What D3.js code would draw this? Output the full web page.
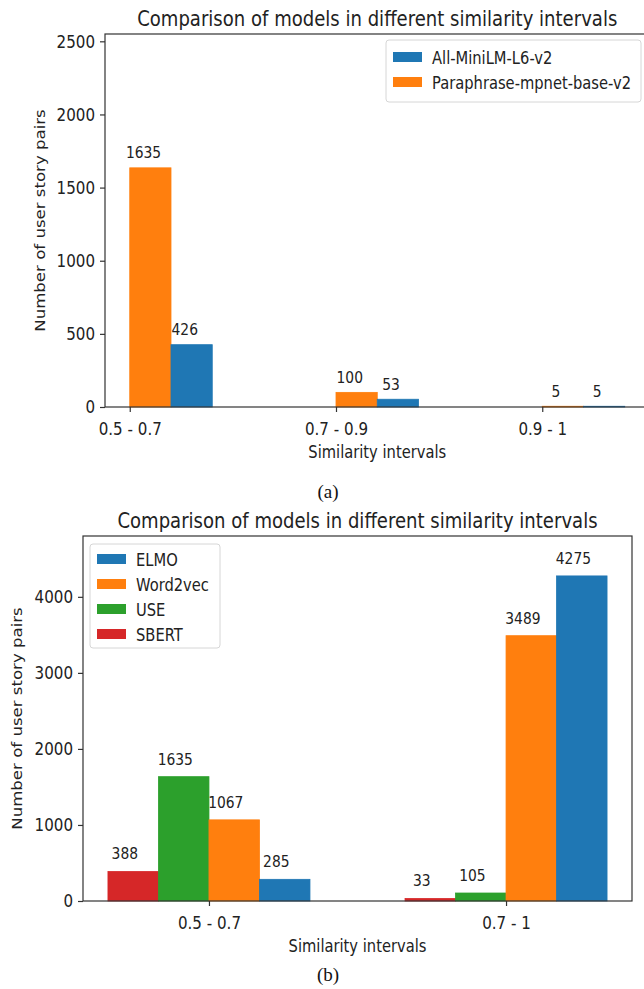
<!DOCTYPE html>
<html>
<head>
<meta charset="utf-8">
<script src="https://cdn.jsdelivr.net/npm/d3@7"></script>
<style>
  body { margin: 0; background: #fff; }
  svg text { font-family: "DejaVu Sans", sans-serif; fill: #222; }
  svg text.caption { font-family: "Liberation Serif", "Times New Roman", serif; fill: #111; }
</style>
</head>
<body>
<svg id="fig" width="644" height="989"></svg>
<script>
// (a) two sentence models
var intervalsA = ["0.5 - 0.7", "0.7 - 0.9", "0.9 - 1"];
var miniLM = [426, 53, 5];
var mpnet = [1635, 100, 5];
var yTicksA = [0, 500, 1000, 1500, 2000, 2500];

// (b) four embedding models
var intervalsB = ["0.5 - 0.7", "0.7 - 1"];
var elmo = [285, 4275];
var word2vec = [1067, 3489];
var useVals = [1635, 105];
var sbert = [388, 33];
var yTicksB = [0, 1000, 2000, 3000, 4000];

var BLUE = "#1f77b4", ORANGE = "#ff7f0e", GREEN = "#2ca02c", RED = "#d62728";
var SX = 0.84; // source picture is squeezed sideways, so is the text

var svg = d3.select("#fig");

function label(parent, x, y, str, size, anchor) {
	return parent.append("text")
		.attr("transform", "translate(" + x + "," + y + ") scale(" + SX + ",1)")
		.attr("text-anchor", anchor || "middle")
		.attr("font-size", size)
		.text(str);
}

function drawChart(o) {
	var g = svg.append("g");
	var n = o.cats.length;
	var offs = o.series.map(function(s) { return s.offset; });
	var lo = d3.min(offs) * o.barWidth,
	    hi = (n - 1) + (d3.max(offs) + 1) * o.barWidth,
	    m = 0.05 * (hi - lo);

	var x = d3.scaleLinear()
		.domain([lo - m, hi + m])
		.range([o.left, o.right]);

	var y = d3.scaleLinear()
		.domain([0, o.ymax])
		.range([o.bottom, o.top]);

	var bw = x(o.barWidth) - x(0);

	o.series.forEach(function(s) {
		g.selectAll(null)
			.data(s.values)
			.enter().append("rect")
			.attr("x", function(d, i) { return x(i + s.offset * o.barWidth); })
			.attr("y", function(d) { return y(d); })
			.attr("width", bw)
			.attr("height", function(d) { return y(0) - y(d); })
			.attr("fill", s.color)
			.attr("stroke", s.color)
			.attr("stroke-width", 0.8);

		s.values.forEach(function(d, i) {
			label(g, x(i + s.offset * o.barWidth) + bw / 3, y(d) - o.labelGap, d, 16.5);
		});
	});

	// axes
	var xAxis = g.append("g")
		.attr("transform", "translate(0," + o.bottom + ")")
		.call(d3.axisBottom(x)
			.tickValues(d3.range(n))
			.tickFormat(function(i) { return o.cats[i]; })
			.tickSize(5).tickSizeOuter(0));
	xAxis.select(".domain").remove();
	xAxis.selectAll(".tick line").attr("stroke", "#333").attr("stroke-width", 1.2);
	xAxis.selectAll(".tick text")
		.attr("y", 28).attr("dy", null)
		.attr("font-size", 18)
		.attr("transform", "scale(" + SX + ",1)");

	var yAxis = g.append("g")
		.attr("transform", "translate(" + o.left + ",0)")
		.call(d3.axisLeft(y)
			.tickValues(o.yTicks)
			.tickFormat(d3.format("d"))
			.tickSize(5).tickSizeOuter(0));
	yAxis.select(".domain").remove();
	yAxis.selectAll(".tick line").attr("stroke", "#333").attr("stroke-width", 1.2);
	yAxis.selectAll(".tick text")
		.attr("x", -10 / SX)
		.attr("font-size", 18)
		.attr("transform", "scale(" + SX + ",1)");

	g.selectAll(".tick text").attr("fill", "#222");
	g.selectAll("g").attr("font-family", null);

	// frame
	g.append("rect")
		.attr("x", o.left).attr("y", o.top)
		.attr("width", o.right - o.left)
		.attr("height", o.bottom - o.top)
		.attr("fill", "none")
		.attr("stroke", "#333")
		.attr("stroke-width", 1.2);

	var cx = (o.left + o.right) / 2;
	label(g, cx, o.top - 8, o.title, 21.5);
	label(g, cx, o.bottom + 51, "Similarity intervals", 17.5);

	g.append("text")
		.attr("transform", "translate(" + o.yLabelX + "," + (o.top + o.bottom) / 2 + ") rotate(-90) scale(1," + SX + ")")
		.attr("text-anchor", "middle")
		.attr("font-size", 16.6)
		.text("Number of user story pairs");

	// legend
	var L = o.legend;
	var leg = g.append("g");
	leg.append("rect")
		.attr("x", L.x).attr("y", L.y)
		.attr("width", L.w).attr("height", L.h)
		.attr("rx", 3)
		.attr("fill", "#fff").attr("fill-opacity", 0.8)
		.attr("stroke", "#d6d6d6");
	L.items.forEach(function(s, k) {
		var cy = L.y + L.first + k * L.step;
		leg.append("rect")
			.attr("x", L.x + 7).attr("y", cy - 5)
			.attr("width", 29).attr("height", 10)
			.attr("fill", s.color);
		label(leg, L.x + 46, cy + 6.5, s.name, 17.5, "start");
	});

	g.append("text")
		.attr("class", "caption")
		.attr("x", 328).attr("y", o.captionY)
		.attr("text-anchor", "middle")
		.attr("font-size", 19)
		.text(o.caption);
}

var sMini = {name: "All-MiniLM-L6-v2", values: miniLM, color: BLUE, offset: 1};
var sMpnet = {name: "Paraphrase-mpnet-base-v2", values: mpnet, color: ORANGE, offset: 0};

drawChart({
	title: "Comparison of models in different similarity intervals",
	cats: intervalsA,
	series: [sMpnet, sMini],
	barWidth: 0.2,
	ymax: 2550, yTicks: yTicksA,
	left: 105, right: 649.5, top: 34, bottom: 407,
	labelGap: 9.5,
	yLabelX: 45,
	legend: {x: 386, y: 40, w: 255, h: 62, first: 17, step: 25, items: [sMini, sMpnet]},
	caption: "(a)", captionY: 498
});

var sElmo = {name: "ELMO", values: elmo, color: BLUE, offset: 1};
var sW2v = {name: "Word2vec", values: word2vec, color: ORANGE, offset: 0};
var sUse = {name: "USE", values: useVals, color: GREEN, offset: -1};
var sSbert = {name: "SBERT", values: sbert, color: RED, offset: -2};

drawChart({
	title: "Comparison of models in different similarity intervals",
	cats: intervalsB,
	series: [sSbert, sUse, sW2v, sElmo],
	barWidth: 0.17,
	ymax: 4800, yTicks: yTicksB,
	left: 83, right: 632, top: 536, bottom: 901,
	labelGap: 12,
	yLabelX: 22,
	legend: {x: 90, y: 544, w: 130, h: 104, first: 15, step: 25, items: [sElmo, sW2v, sUse, sSbert]},
	caption: "(b)", captionY: 981
});
</script>
</body>
</html>
